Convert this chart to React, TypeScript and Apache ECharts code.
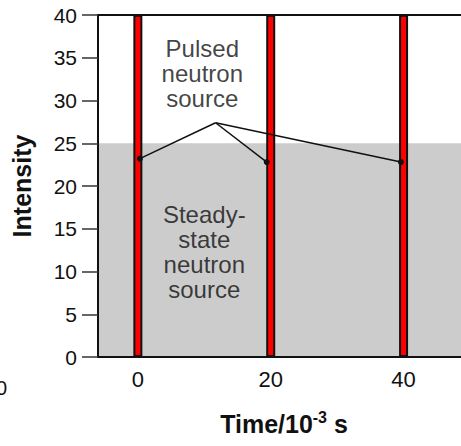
import React, { useEffect, useRef } from "react";
import * as echarts from "echarts";

// ---- data ----
const pulseTimes = [0, 20, 40];
const pulseHeight = 40;
const steadyLevel = 25;
const xRange = [-6, 50];
const xTickLabels = [0, 20, 40];
const annotationApex = [11.7, 27.4];
const pulseMarkers = [
  [0.3, 23.2],
  [19.4, 22.8],
  [39.6, 22.8],
];
const textNotes = [
  { name: "Pulsed\nneutron\nsource", value: [9.7, 33.1] },
  { name: "Steady-\nstate\nneutron\nsource", value: [10, 12.3] },
];

const FONT = "'Liberation Sans', Arial, Helvetica, sans-serif";
const INK = "#111111";

export default function App() {
  const ref = useRef<HTMLDivElement>(null);

  useEffect(() => {
    if (!ref.current) return;
    const chart = echarts.init(ref.current, null, { renderer: "svg" });

    const lineSeries = pulseMarkers.map((m) => ({
      type: "line",
      data: [{ value: annotationApex, symbol: "none" }, { value: m }],
      symbol: "circle",
      symbolSize: 6,
      itemStyle: { color: INK },
      lineStyle: { color: INK, width: 1.5 },
      z: 5,
      silent: true,
    }));

    chart.setOption({
      animation: false,
      textStyle: { fontFamily: FONT },
      grid: {
        left: 98,
        top: 15,
        width: 372,
        height: 342,
        show: true,
        borderColor: INK,
        borderWidth: 2,
        backgroundColor: "transparent",
      },
      xAxis: {
        type: "value",
        min: xRange[0],
        max: xRange[1],
        z: 10,
        splitLine: { show: false },
        axisLine: { show: true, onZero: false, lineStyle: { color: INK, width: 2 } },
        axisTick: { show: false },
        axisLabel: {
          customValues: xTickLabels,
          fontSize: 22,
          color: INK,
          margin: 11,
        },
        name: "{a|Time/10}{b|-3}{a| s}",
        nameLocation: "middle",
        nameGap: 52,
        nameTextStyle: {
          rich: {
            a: { fontSize: 25, fontWeight: "bold", color: INK, lineHeight: 30, fontFamily: FONT },
            b: { fontSize: 16, fontWeight: "bold", color: INK, lineHeight: 16, verticalAlign: "top", fontFamily: FONT },
          },
        },
      },
      yAxis: {
        type: "value",
        min: 0,
        max: 40,
        interval: 5,
        z: 10,
        splitLine: { show: false },
        axisLine: { show: true, onZero: false, lineStyle: { color: INK, width: 2 } },
        axisTick: { show: true, length: 16, lineStyle: { color: "#333", width: 1.5 } },
        axisLabel: { fontSize: 21, color: INK, margin: 21 },
        name: "Intensity",
        nameLocation: "middle",
        nameGap: 64,
        nameTextStyle: { fontSize: 25, fontWeight: "bold", color: INK },
      },
      series: [
        {
          type: "line",
          data: xRange.map((x) => [x, steadyLevel]),
          symbol: "none",
          lineStyle: { width: 0 },
          areaStyle: { color: "#cccccc", opacity: 1 },
          z: 1,
          silent: true,
        },
        {
          type: "bar",
          data: pulseTimes.map((t) => [t, pulseHeight]),
          barWidth: 9,
          itemStyle: { color: "#ff0000", borderColor: INK, borderWidth: 2 },
          z: 3,
          silent: true,
        },
        ...lineSeries,
        {
          type: "scatter",
          data: textNotes,
          symbolSize: 0,
          z: 6,
          silent: true,
          label: {
            show: true,
            position: "inside",
            formatter: "{b}",
            fontSize: 24,
            lineHeight: 25,
            color: INK,
            textBorderWidth: 0,
            textBorderColor: "transparent",
            align: "center",
            verticalAlign: "middle",
          },
        },
      ],
      graphic: [
        {
          type: "text",
          z: 20,
          style: {
            text: "0",
            x: 7,
            y: 388,
            align: "right",
            verticalAlign: "middle",
            fontSize: 20,
            fontFamily: FONT,
            fill: INK,
          },
        },
      ],
    });

    return () => chart.dispose();
  }, []);

  return (
    <div
      style={{
        position: "fixed",
        left: 0,
        top: 0,
        width: 461,
        height: 446,
        overflow: "hidden",
        background: "#fff",
      }}
    >
      <div ref={ref} style={{ width: 480, height: 446 }} />
    </div>
  );
}
